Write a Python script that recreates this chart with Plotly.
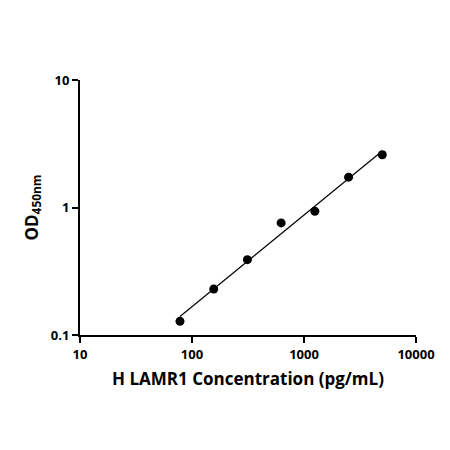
import numpy as np
import plotly.graph_objects as go

# standard curve: concentration (pg/mL) vs OD450
concentration = [78.125, 156.25, 312.5, 625, 1250, 2500, 5000]
od450 = [0.128, 0.229, 0.39, 0.757, 0.935, 1.73, 2.59]

# straight line fit in log-log space
slope, intercept = np.polyfit(np.log10(concentration), np.log10(od450), 1)
fit_x = np.logspace(np.log10(concentration[0]), np.log10(concentration[-1]), 50)
fit_y = 10 ** (intercept + slope * np.log10(fit_x))

fig = go.Figure()
fig.add_trace(go.Scatter(x=fit_x, y=fit_y, mode="lines",
                         line=dict(color="black", width=1.2), hoverinfo="skip"))
fig.add_trace(go.Scatter(x=concentration, y=od450, mode="markers",
                         marker=dict(color="black", size=9)))

axis_style = dict(type="log", showgrid=False, zeroline=False, showline=True,
                  linecolor="black", linewidth=2, ticks="outside", ticklen=6,
                  tickwidth=2, tickcolor="black",
                  tickfont=dict(family="Open Sans", size=13, color="black"))

fig.update_layout(
    width=450, height=450, showlegend=False,
    plot_bgcolor="white", paper_bgcolor="white",
    margin=dict(l=72, r=42, t=72, b=123),
    font=dict(family="Open Sans", color="black"),
    xaxis=dict(axis_style, range=[1, 4], tickvals=[10, 100, 1000, 10000],
               ticktext=["<b>10</b>", "<b>100</b>", "<b>1000</b>", "<b>10000</b>"],
               title=dict(text="<b>H LAMR1 Concentration (pg/mL)</b>",
                          font=dict(size=17), standoff=12)),
    yaxis=dict(axis_style, range=[-1, 1], tickvals=[0.1, 1, 10],
               ticktext=["<b>0.1</b>", "<b>1</b>", "<b>10</b>"],
               title=dict(text="<b>OD<sub>450nm</sub></b>",
                          font=dict(size=17), standoff=8)),
)

fig.write_html("out.html")
